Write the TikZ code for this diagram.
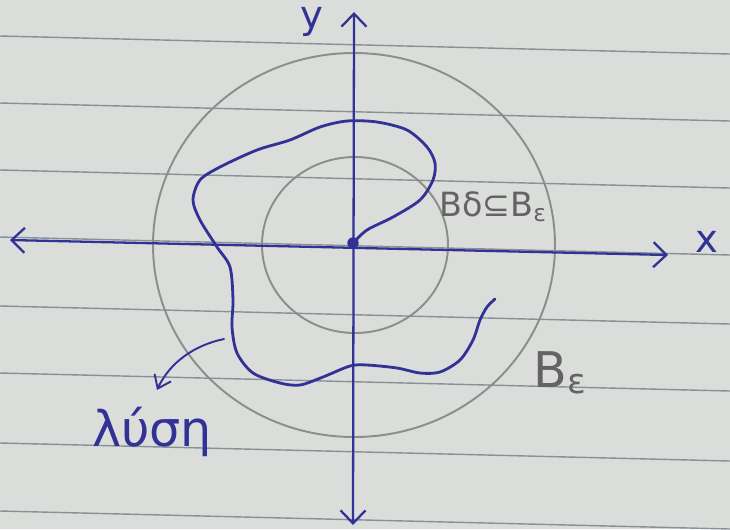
\documentclass[tikz,border=0pt]{standalone}
\usepackage{fontspec}
\setmainfont{DejaVu Sans}
\usetikzlibrary{arrows.meta}
\definecolor{pen}{RGB}{50,50,150}
\definecolor{pencil}{RGB}{140,142,140}
\definecolor{paper}{RGB}{218,221,218}
\definecolor{rule}{RGB}{135,145,152}
\begin{document}
\begin{tikzpicture}[x=0.02cm, y=-0.02cm, line cap=round, line join=round,
  ink/.style={draw=pen, line width=1.6pt},
  axis/.style={draw=pen, line width=1.3pt, >={Straight Barb[length=2.6mm, width=5mm]}},
  ring/.style={draw=pencil, line width=1.1pt},
  tag/.style={inner sep=0pt}]
  \fill[paper] (0,0) rectangle (730,529);
  \useasboundingbox (0,0) rectangle (730,529);
  \foreach \yl in {36,103,170,237,306,373,443,511}
    \draw[rule, line width=0.8pt] (0,\yl) -- (730,\yl+18);
  \draw[ring] (354,245) ellipse [x radius=201, y radius=192];
  \draw[ring] (355,245) ellipse [x radius=93, y radius=88];
  \coordinate (xl) at (10,240);
  \coordinate (xr) at (668,255);
  \coordinate (yb) at (353,525);
  \coordinate (yt) at (354,12);
  \draw[axis, <->] (xl) -- (xr);
  \draw[axis, <->] (yb) -- (yt);
  \node[circle, fill=pen, inner sep=0pt, minimum size=6.5pt] (o) at (353,243) {};
  \draw[ink] plot[smooth, tension=0.5] coordinates {(o.center) (367,230) (393,217) (420,200)
    (433,180) (435,163) (427,147) (407,130) (377,122) (347,121) (320,127) (290,140)
    (257,150) (220,167) (200,180) (193,200) (200,220) (217,247) (230,267) (233,300)
    (232,327) (237,353) (253,373) (280,383) (300,385) (323,377) (350,366) (367,365)
    (397,368) (420,373) (440,372) (460,360) (473,340) (480,320) (487,307) (495,299)};
  \node[tag, text=pen, font=\fontsize{22}{24}\selectfont] (ylab) at (312,22) {y};
  \node[tag, text=pen, font=\fontsize{22}{24}\selectfont] (xlab) at (707,242) {x};
  \node[tag, text=pencil!70!black, font=\fontsize{19}{21}\selectfont] (inc) at (493,207) {Bδ⊆B\textsubscript{ε}};
  \node[tag, text=pencil!70!black, font=\fontsize{28}{30}\selectfont] (beps) at (560,373) {B\textsubscript{ε}};
  \node[tag, text=pen, font=\fontsize{28}{30}\selectfont] (sol) at (152,432) {λύση};
  \coordinate (tail) at (224,339);
  \coordinate (tip) at (157,390);
  \draw[draw=pen, line width=1.1pt, -{Straight Barb[length=2.4mm, width=3.6mm]}]
    (tail) .. controls (195,345) and (170,362) .. (tip);
\end{tikzpicture}
\end{document}
